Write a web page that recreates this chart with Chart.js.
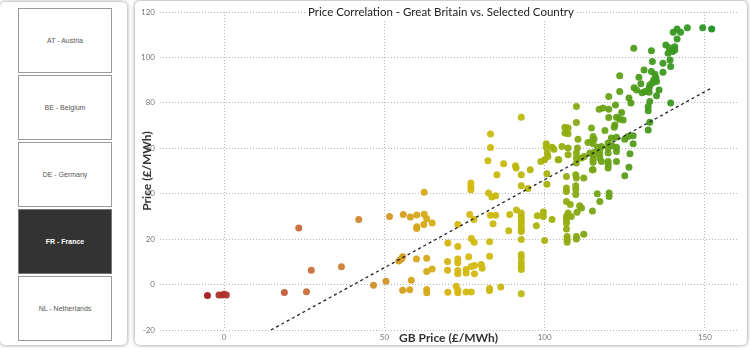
<!DOCTYPE html>
<html>
<head>
<meta charset="utf-8">
<script src="https://cdn.jsdelivr.net/npm/chart.js@4.4.1/dist/chart.umd.min.js"></script>
<style>
  html, body { margin: 0; padding: 0; background: #fff; width: 750px; height: 348px; overflow: hidden; font-family: "Liberation Sans", Arial, sans-serif; }
  .side { position: absolute; left: 0; top: 2px; width: 127px; height: 343px; background: #fff; border-radius: 5px; box-shadow: 0 0 4px rgba(0,0,0,.45); }
  .btn { position: absolute; left: 18px; width: 94px; height: 65px; border: 1px solid #9a9a9a; box-sizing: border-box; display: flex; align-items: center; justify-content: center; font-size: 7px; color: #555; background: #fff; }
  .btn.on { background: #333; color: #fff; font-weight: bold; border-color: #777; }
  .card { position: absolute; left: 135px; top: 1px; width: 612px; height: 344px; background: #fff; border-radius: 5px; box-shadow: 0 0 4px rgba(0,0,0,.45); }
  #wrap { position: absolute; left: 137px; top: 0; width: 608px; height: 346px; }
</style>
</head>
<body>
<div class="side" id="side"></div>
<div class="card"></div>
<div id="wrap"><canvas id="corr" width="608" height="346"></canvas></div>
<script>
const countries = ['AT - Austria', 'BE - Belgium', 'DE - Germany', 'FR - France', 'NL - Netherlands'];
const selected = 'FR - France';

const chartTitle = 'Price Correlation - Great Britain vs. Selected Country';
const xTitle = 'GB Price (£/MWh)';
const yTitle = 'Price (£/MWh)';
const xTicks = [0, 50, 100, 150];

// GB price (x) and selected country price (y), one entry per point
const gbPrice = [
  -5.2, -1.6, -0.5, 0, 0.7,
  18.8, 23.3, 25.7, 27.2, 36.6, 42, 46.6, 50.5,
  51.6, 55.9, 58.1, 60.1, 62.4, 62.4, 63.2, 64.9, 62.3, 60.1, 60.1,
  54.5, 55.7, 55.3, 60, 63.2, 63.2, 64.9, 58.4, 55.7, 57.9, 63.2, 63.2,
  69.8, 72.9, 72.9, 69.7, 69.7, 72.9, 72.9, 72.9, 72.9, 75.5, 75.5, 76.3, 77.1, 78.1, 78.1, 80.2, 80.5,
  77.1, 78, 82.8, 82.8, 69.8, 72.4, 72.9, 72.9, 75.5, 77.1, 82.8, 82.8, 86.3,
  76.6, 77.9, 83.1, 84.7, 83.9, 77, 77, 77, 82.5, 83.5, 84.7, 85.1, 83.1, 83.1, 82.3, 87.2,
  88.8, 89.1, 91.2, 90.9, 91.1, 92.7, 92.7, 92.7, 94.8, 95.5,
  92.7, 92.7, 92.7, 92.7, 92.7, 92.7, 92.7, 92.7, 92.7, 92.7, 92.7, 92.7, 92.7, 92.7,
  97.4, 97.7, 99.6, 99.6, 100, 102.3, 100.7, 100.7, 100.5, 100.5, 100.8, 101, 102.3, 102.9, 98.8, 100, 104.2,
  106.8, 106.8, 106.8, 109.7, 109.7, 109.7, 109.7, 112.2, 106.8, 108, 110.9, 111.5, 110.1,
  106.8, 106.8, 106.8, 106.8, 108.3, 107, 107, 107, 109.9, 109.9, 112.2, 114.9, 116.4, 117.2,
  120.1, 120.1, 125, 114.9, 109.9, 109.9, 107.3, 104.4, 105.4, 106.3, 107.3, 106.3, 107.3,
  109.9, 109.9, 110.4, 107.3, 107.3, 110.2, 109.9, 109.9, 112.3, 111.5, 113.5, 114.6, 115.1, 115.4,
  114.1, 115.1, 115.6, 115.1, 115.1, 115.1, 117.2, 117.2, 117.7, 116.5, 117.2, 117.7,
  119.8, 119.8, 119.8, 121, 122.4, 122.4, 119.8, 119.8, 119.8, 122.4, 126.3, 126.6, 127.6, 125, 126, 127.6,
  120.8, 122.4, 118.8, 114.6, 115.1, 121.9, 121.7, 122.4, 123.4, 124.5, 124, 120, 117, 118.2, 120,
  122.1, 120, 126.3, 126.9, 123.4, 123.4,
  127.8, 131, 129.4, 127.9, 128.7, 130, 130.4, 131.3, 144.5, 149.3, 152.1, 141.3, 142.4, 140.1, 141.3,
  137.8, 138.9, 140.6, 140.6, 139.9, 133.3, 138.5, 139.1, 133.6, 136.9, 139.3, 136.9, 133.3, 134.4,
  134.7, 134, 134.9, 132.8, 133.6, 132.6, 132.6, 135.7, 134.9, 132.8, 139.3, 132.3, 132.3, 132.8, 132.3
];
const frPrice = [
  -4.8, -4.6, -4.6, -4.3, -4.6,
  -3.5, 24.9, -3.2, 6.3, 7.9, 28.6, -0.3, 1.5,
  30, 30.8, 29.8, 30.6, 40.6, 31, 29, 27.1, 26.4, 24.7, 25.5,
  10.4, 12.2, 11.3, 11.3, 11.6, 5.8, 6.9, 1.9, -2.5, -2.3, -2.2, -3.6,
  18.3, 16.8, 26.4, 10.2, 6.3, 11.3, 9.6, 6.2, 4.8, 6.6, 5.1, 12.3, 8.0, 8.4, 4.8, 8.8, 7.2,
  20.3, 18.6, 18.8, 12.5, -3.4, -0.7, -2.5, -3.6, -3.3, -3.3, -1.7, -2.6, -1.1,
  30.8, 28.6, 30.5, 30.5, 26.8, 44.7, 43.2, 41.8, 40.3, 38.6, 39.1, 48.4, 66.3, 60.3, 54.5, 53.2,
  23.7, 30.8, 32.8, 52.3, 51.3, 73.7, 48.4, 43.5, 42.3, 50.5,
  -4, 6.6, 8.0, 9.6, 11.7, 13.2, 19.8, 23.4, 24.2, 25.6, 27.1, 28.6, 30, 31.5,
  25.9, 30.3, 32, 30, 19.4, 28.6, 48.8, 44.2, 62, 60.5, 57.9, 56.4, 60.5, 59.6, 54.2, 54.9, 54.9,
  47.6, 42.5, 41, 48.4, 43.5, 42, 39.6, 46.9, 36.6, 35.2, 34.7, 33.7, 31.8,
  30, 28.6, 27.1, 24.5, 30, 21.2, 19.8, 18.6, 21.2, 20.1, 22.1, 32.4, 40, 36.6,
  40.3, 38.8, 47.9, 50.5, 53.5, 46.9, 31.5, 54.9, 60.8, 69.3, 68.9, 66.7, 66.4,
  78.4, 71.3, 64, 60.1, 57.1, 60.1, 57.9, 55.7, 56.4, 55.7, 62.6, 63, 62, 64,
  57.9, 56.7, 58.2, 54.9, 53.8, 50.5, 57.1, 55.7, 54.2, 60.5, 59.3, 60.8,
  62.3, 60.1, 57.9, 61.1, 60.5, 58.6, 54.2, 52.7, 51.3, 54.2, 51.7, 57.6, 62, 64, 65.2, 65.5,
  64.5, 64.9, 67.8, 68.9, 65.2, 70.3, 69.3, 73.7, 72.8, 72.5, 75.7, 73.5, 77.2, 77.7, 77.2,
  79.1, 82.8, 82.1, 79.9, 85, 91.9,
  104, 94.5, 91.3, 86.7, 85.7, 88.4, 84.5, 85, 113.1, 113.1, 112.5, 112.5, 111.1, 111.1, 108.1,
  105.5, 104.3, 104.7, 103.3, 102.6, 102.9, 101.8, 98.9, 98.2, 97.4, 96, 93.5, 93.8, 92.6,
  91.1, 90.1, 89.4, 87.9, 88.7, 86.5, 84.7, 85.7, 83.1, 80.6, 79.9, 78.4, 76.5, 71.5, 68.1
];

// fitted trend line end points
const trendX = [14.6, 152];
const trendY = [-20, 86.5];

// side panel
const side = document.getElementById('side');
countries.forEach((c, i) => {
  const b = document.createElement('div');
  b.className = 'btn' + (c === selected ? ' on' : '');
  b.style.top = (6 + i * 67) + 'px';
  b.textContent = c;
  side.appendChild(b);
});

// red -> gold -> green by GB price
const stops = [
  [-5, [168, 40, 42]], [25, [200, 108, 58]], [45, [208, 140, 45]], [60, [214, 165, 25]],
  [75, [214, 185, 15]], [92, [190, 184, 15]], [102, [160, 178, 12]], [112, [128, 168, 20]],
  [122, [98, 160, 22]], [132, [68, 154, 30]], [152, [40, 150, 40]]
];
function colorFor(x) {
  if (x <= stops[0][0]) return 'rgb(' + stops[0][1].join(',') + ')';
  for (let i = 1; i < stops.length; i++) {
    if (x <= stops[i][0]) {
      const t = (x - stops[i - 1][0]) / (stops[i][0] - stops[i - 1][0]);
      const c = stops[i - 1][1].map((v, k) => Math.round(v + (stops[i][1][k] - v) * t));
      return 'rgba(' + c.join(',') + ',0.95)';
    }
  }
  return 'rgb(' + stops[stops.length - 1][1].join(',') + ')';
}

const points = gbPrice.map((x, i) => ({ x: x, y: frPrice[i] }));
const trend = trendX.map((x, i) => ({ x: x, y: trendY[i] }));

const textPlugin = {
  id: 'textPlugin',
  afterDraw(chart) {
    const { ctx, chartArea: a } = chart;
    ctx.save();
    ctx.textAlign = 'center';
    ctx.textBaseline = 'middle';

    ctx.font = '11.5px Lato';
    const w = ctx.measureText(chartTitle).width;
    const cx = chart.width / 2;
    ctx.fillStyle = '#fff';
    ctx.fillRect(cx - w / 2 - 3, a.top - 8, w + 6, 16);
    ctx.fillStyle = '#202020';
    ctx.fillText(chartTitle, cx, a.top);

    ctx.font = 'bold 12px Lato';
    ctx.fillStyle = '#333';
    ctx.fillText(xTitle, (a.left + a.right) / 2, a.bottom + 8);

    ctx.translate(10, (a.top + a.bottom) / 2);
    ctx.rotate(-Math.PI / 2);
    ctx.fillText(yTitle, 0, 0);
    ctx.restore();
  }
};

const tickFont = { family: 'Lato', size: 8 };

new Chart(document.getElementById('corr'), {
  type: 'scatter',
  data: {
    datasets: [
      {
        type: 'line',
        data: trend,
        borderColor: '#222',
        borderWidth: 1.3,
        borderDash: [3, 3],
        pointRadius: 0,
        fill: false,
        order: 0
      },
      {
        data: points,
        pointRadius: 3.5,
        pointBorderWidth: 0,
        pointBackgroundColor: ctx => colorFor(ctx.raw ? ctx.raw.x : 0),
        order: 1
      }
    ]
  },
  options: {
    responsive: false,
    animation: false,
    devicePixelRatio: 1,
    layout: { padding: { top: 12, right: 8, left: 0, bottom: 0 } },
    plugins: { legend: { display: false }, tooltip: { enabled: false } },
    scales: {
      x: {
        type: 'linear',
        min: -20,
        max: 160,
        afterBuildTicks: s => { s.ticks = xTicks.map(v => ({ value: v })); },
        afterFit: s => { s.height = 16; },
        grid: { color: '#b5b5b5', drawTicks: false, lineWidth: 1 },
        border: { display: false, dash: [1, 2] },
        ticks: { padding: 3, font: tickFont, color: '#777', maxRotation: 0 }
      },
      y: {
        min: -20,
        max: 120,
        afterFit: s => { s.width = 23; },
        grid: { color: '#b5b5b5', drawTicks: false, lineWidth: 1 },
        border: { display: false, dash: [1, 2] },
        ticks: { stepSize: 20, padding: 5, font: tickFont, color: '#777' }
      }
    }
  },
  plugins: [textPlugin]
});
</script>
</body>
</html>
